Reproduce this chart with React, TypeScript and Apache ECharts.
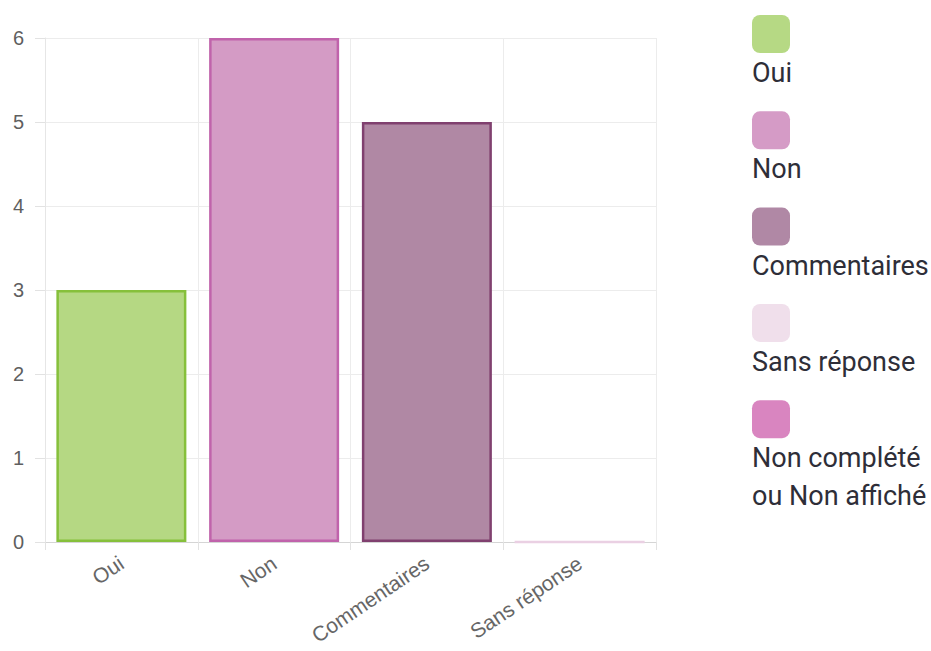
import React, { useEffect, useRef } from "react";
import * as echarts from "echarts";

const categories = ["Oui", "Non", "Commentaires", "Sans réponse"];
const values = [3, 6, 5, 0];
const fillColors = ["#b5d883", "#d49bc5", "#b088a4", "#f0e0ec"];
const borderColors = ["#86c03b", "#c063ab", "#80406f", "#ead0e3"];
const yTicks = [0, 1, 2, 3, 4, 5, 6];

const legendLabels = ["Oui", "Non", "Commentaires", "Sans réponse", "Non complété\nou Non affiché"];
const legendColors = ["#b6d984", "#d59bc6", "#b088a5", "#f0dfeb", "#d985c0"];

export default function App() {
  const ref = useRef<HTMLDivElement>(null);

  useEffect(() => {
    if (!ref.current) return;
    const chart = echarts.init(ref.current, undefined, { renderer: "svg" });

    const legendGraphics: any[] = [];
    legendLabels.forEach((label, i) => {
      const top = 15 + i * 96.3;
      legendGraphics.push({
        type: "rect",
        left: 752,
        top,
        shape: { width: 38, height: 38, r: 8 },
        style: { fill: legendColors[i] },
      });
      legendGraphics.push({
        type: "text",
        left: 752,
        top: top + 39,
        style: {
          text: label,
          fill: "#2e2e38",
          font: "27px Roboto, 'Liberation Sans', sans-serif",
          lineHeight: 38,
        },
      });
    });

    chart.setOption({
      animation: false,
      grid: { left: 45, top: 38, right: 275, bottom: 109, containLabel: false },
      xAxis: {
        type: "category",
        data: categories,
        boundaryGap: true,
        axisLine: { show: true, lineStyle: { color: "#d5d5d5", width: 1 } },
        axisTick: { show: true, length: 8, lineStyle: { color: "#e2e2e2" } },
        splitLine: { show: true, lineStyle: { color: "#ececec" } },
        axisLabel: {
          rotate: 34,
          margin: 19,
          color: "#666",
          fontSize: 21,
          fontFamily: "'Liberation Sans', Arial, sans-serif",
        },
      },
      yAxis: {
        type: "value",
        min: yTicks[0],
        max: yTicks[yTicks.length - 1],
        interval: 1,
        axisLine: { show: true, lineStyle: { color: "#e6e6e6" } },
        axisTick: { show: true, length: 10, lineStyle: { color: "#e2e2e2" } },
        splitLine: { show: true, lineStyle: { color: "#ececec" } },
        axisLabel: {
          margin: 21,
          color: "#5f5f5f",
          fontSize: 20,
          fontFamily: "'Liberation Sans', Arial, sans-serif",
        },
      },
      series: [
        {
          type: "bar",
          barWidth: 130,
          data: values.map((v, i) => ({
            value: v,
            itemStyle: {
              color: fillColors[i],
              borderColor: borderColors[i],
              borderWidth: 2.5,
            },
          })),
        },
      ],
      graphic: legendGraphics,
    });

    return () => chart.dispose();
  }, []);

  return (
    <div
      ref={ref}
      style={{ position: "absolute", left: 0, top: 0, width: 931, height: 651, background: "#fff" }}
    />
  );
}
